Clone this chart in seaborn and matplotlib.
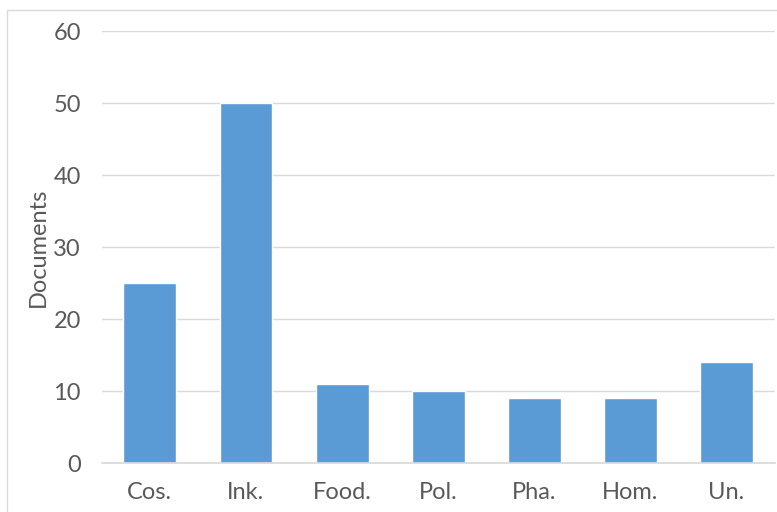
import seaborn as sns
import matplotlib.pyplot as plt
from matplotlib.patches import Rectangle

categories = ['Cos.', 'Ink.', 'Food.', 'Pol.', 'Pha.', 'Hom.', 'Un.']
documents = [25, 50, 11, 10, 9, 9, 14]
y_ticks = [0, 10, 20, 30, 40, 50, 60]

BAR_COLOR = '#5B9BD5'
TEXT_COLOR = '#595959'


def main() -> None:
    sns.set_theme(style='white')
    plt.rcParams['font.family'] = ['Lato', 'DejaVu Sans']

    fig = plt.figure(figsize=(7.77, 5.12), dpi=100)
    ax = fig.add_axes([0.131, 0.0957, 0.866, 0.8437])

    sns.barplot(x=categories, y=documents, color=BAR_COLOR, width=0.55,
                saturation=1, ax=ax)

    ax.set_ylim(0, 60)
    ax.set_yticks(y_ticks)
    ax.set_xlim(-0.5, len(categories) - 0.5)
    ax.yaxis.grid(True, color='#D9D9D9', linewidth=1)
    ax.set_axisbelow(True)
    for side in ['top', 'right', 'left']:
        ax.spines[side].set_visible(False)
    ax.spines['bottom'].set_color('#D9D9D9')
    ax.tick_params(axis='both', length=0, labelsize=17, colors=TEXT_COLOR)
    ax.tick_params(axis='y', pad=15)
    ax.tick_params(axis='x', pad=14)
    ax.set_ylabel('Documents', fontsize=17, color=TEXT_COLOR, labelpad=3)
    ax.set_xlabel('')

    # outer chart frame (partly cropped in the original)
    fig.patches.append(Rectangle((7 / 777, -0.1), 1.2, 1 - 10 / 512 + 0.1,
                                 transform=fig.transFigure, fill=False,
                                 edgecolor='#D9D9D9', linewidth=1))

    fig.savefig('out.png', dpi=100)


if __name__ == '__main__':
    main()
